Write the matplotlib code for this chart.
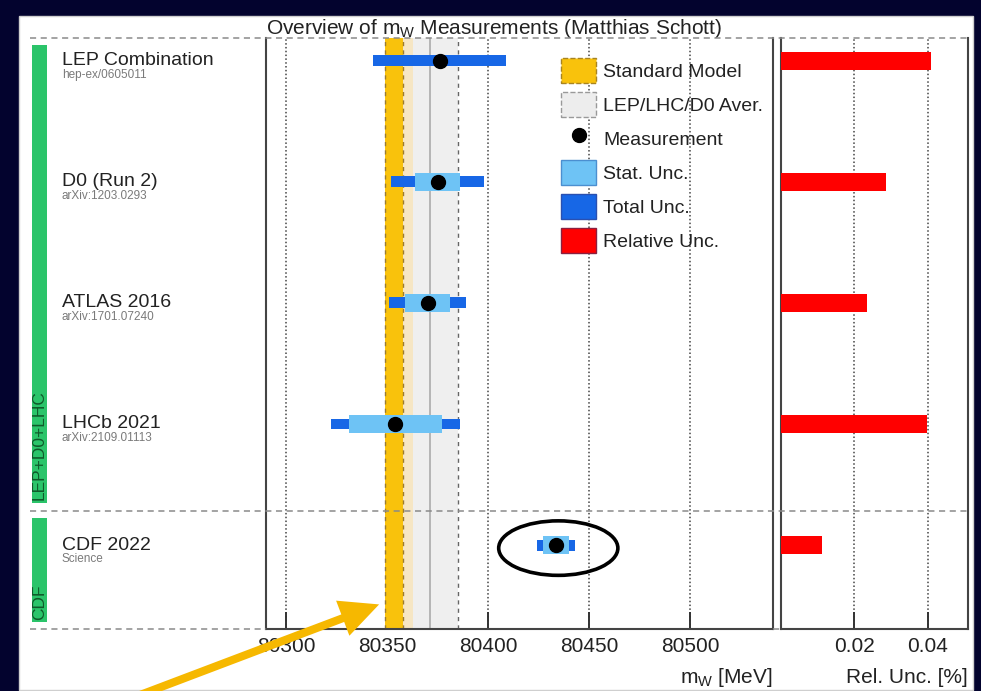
import matplotlib
matplotlib.use("Agg")
import matplotlib.pyplot as plt
from matplotlib.patches import Rectangle, Patch, Ellipse, ArrowStyle
from matplotlib.lines import Line2D
from matplotlib.transforms import blended_transform_factory

plt.rcParams["font.family"] = ["Liberation Sans", "DejaVu Sans"]
plt.rcParams["mathtext.fontset"] = "custom"
plt.rcParams["mathtext.rm"] = "Liberation Sans"
plt.rcParams["mathtext.it"] = "Liberation Sans:italic"

# ---- data -------------------------------------------------------------
experiments = ["LEP Combination", "D0 (Run 2)", "ATLAS 2016", "LHCb 2021", "CDF 2022"]
references = ["hep-ex/0605011", "arXiv:1203.0293", "arXiv:1701.07240",
              "arXiv:2109.01113", "Science"]
mw_central = [80376.0, 80375.0, 80370.0, 80354.0, 80433.5]   # MeV
unc_total = [33.0, 23.0, 19.0, 32.0, 9.4]                   # MeV
unc_stat = [None, 11.0, 11.0, 23.0, 6.4]                    # MeV
rel_unc = [0.041, 0.0285, 0.0235, 0.0398, 0.0113]           # %

sm_band = (80349.0, 80358.0)          # Standard Model prediction
sm_outer = (80358.0, 80363.0)
avg_band = (80357.0, 80385.0)         # LEP/LHC/D0 average
avg_center = 80371.0

groups = [("LEP+D0+LHC", -0.13, 3.65), ("CDF", 3.78, 4.635)]
separators = [-0.187, 3.718]

xticks_main = [80300, 80350, 80400, 80450, 80500]
xticks_rel = [0.02, 0.04]

# ---- colours ----------------------------------------------------------
C_TOTAL = "#1767e6"
C_STAT = "#6ec3f5"
C_SM = "#f9c20c"
C_SM_OUT = "#f6e6c4"
C_AVG = "#efefef"
C_RED = "#ff0000"
C_GREEN = "#2bc46a"
C_TXT = "#222222"

W, H = 981, 691
fx = lambda px: px / W
fy = lambda py: 1 - py / H

fig = plt.figure(figsize=(W / 100, H / 100), dpi=100, facecolor="#03032e")
fig.patches.append(Rectangle((fx(19), fy(690)), fx(973) - fx(19), fy(16) - fy(690),
                             transform=fig.transFigure, facecolor="white",
                             edgecolor="#cfcfcf", lw=1, zorder=-10))

ax = fig.add_axes([fx(266), fy(629), fx(773) - fx(266), fy(38) - fy(629)])
ax2 = fig.add_axes([fx(781), fy(629), fx(968) - fx(781), fy(38) - fy(629)])

rows = list(range(len(experiments)))
ylim = (4.693, -0.187)

# ---- main panel -------------------------------------------------------
ax.set_xlim(80290, 80541)
ax.set_ylim(*ylim)
ax.axvspan(*avg_band, color=C_AVG, zorder=1, lw=0)
ax.axvspan(*sm_outer, color=C_SM_OUT, zorder=1.1, lw=0)
ax.axvspan(*sm_band, color=C_SM, zorder=1.2, lw=0)
for xv in sm_band:
    ax.axvline(xv, ls=(0, (3, 3)), color="#9a7b30", lw=1.0, zorder=1.3)
ax.axvline(avg_band[1], ls=(0, (3, 3)), color="#666666", lw=1.0, zorder=1.3)
ax.axvline(avg_center, color="#b0b0b0", lw=1.3, zorder=1.3)

ax.set_xticks(xticks_main)
ax.set_xticklabels([str(t) for t in xticks_main])
ax.set_yticks([])
ax.xaxis.grid(True, ls=(0, (1, 1.5)), color="#444444", lw=1.1, zorder=0.5)
ax.set_axisbelow(True)

for i, (c, tot, st) in enumerate(zip(mw_central, unc_total, unc_stat)):
    ax.barh(i, 2 * tot, left=c - tot, height=0.09, color=C_TOTAL, zorder=3)
    if st is not None:
        ax.barh(i, 2 * st, left=c - st, height=0.15, color=C_STAT, zorder=4)
    ax.plot(c, i, "o", color="black", ms=10, zorder=5)

# ---- relative uncertainty panel --------------------------------------
ax2.set_xlim(0, 0.051)
ax2.set_ylim(*ylim)
ax2.barh(rows, rel_unc, height=0.15, color=C_RED, zorder=3)
ax2.set_xticks(xticks_rel)
ax2.set_xticklabels([f"{t:.2f}" for t in xticks_rel])
ax2.set_yticks([])
ax2.xaxis.grid(True, ls=(0, (1, 1.5)), color="#444444", lw=1.1)
ax2.set_axisbelow(True)

for a in (ax, ax2):
    a.spines["top"].set_visible(False)
    for s in ("left", "right", "bottom"):
        a.spines[s].set_color("#444444")
        a.spines[s].set_linewidth(1.5)
    a.tick_params(axis="x", direction="in", length=12, width=1.4, color="#333333",
                  labelsize=15, labelcolor=C_TXT, pad=6, top=False)
    a.tick_params(axis="y", left=False, right=False)

# axis labels and title
ax.text(1.0, -0.082, r"m$_{\rm W}$ [MeV]", transform=ax.transAxes, ha="right",
        va="center", fontsize=15, color=C_TXT)
ax2.text(1.0, -0.082, "Rel. Unc. [%]", transform=ax2.transAxes, ha="right",
         va="center", fontsize=15, color=C_TXT)
ax.text(0.0, 1.0 + 4 / 591, r"Overview of m$_{\rm W}$ Measurements (Matthias Schott)",
        transform=ax.transAxes, ha="left", va="baseline", fontsize=15, color=C_TXT)

# ---- legend -----------------------------------------------------------
handles = [
    Patch(facecolor=C_SM, edgecolor="#a88420", linestyle="--", label="Standard Model"),
    Patch(facecolor="#ededed", edgecolor="#999999", linestyle="--", label="LEP/LHC/D0 Aver."),
    Line2D([], [], marker="o", color="black", ls="none", ms=10, label="Measurement"),
    Patch(facecolor=C_STAT, edgecolor="#4b8fd0", label="Stat. Unc."),
    Patch(facecolor=C_TOTAL, edgecolor="#2a50b0", label="Total Unc."),
    Patch(facecolor=C_RED, edgecolor="#8a2040", label="Relative Unc."),
]
ax.legend(handles=handles, loc="upper left", bbox_to_anchor=(0.582, 0.966),
          frameon=False, fontsize=14, handlelength=1.8, handleheight=1.6,
          labelspacing=0.46, handletextpad=0.36, borderpad=0, borderaxespad=0,
          labelcolor=C_TXT)

# ---- left-hand labels, groups and separators ---------------------------
tr = blended_transform_factory(fig.transFigure, ax.transData)
for i, (name, ref) in enumerate(zip(experiments, references)):
    fig.text(fx(62), i, name, transform=tr, ha="left", va="center",
             fontsize=14, color=C_TXT)
    fig.text(fx(62), i + 0.115, ref, transform=tr, ha="left", va="center",
             fontsize=8.5, color="#7a7a7a")

for label, y0, y1 in groups:
    fig.patches.append(Rectangle((fx(32), y0), fx(47) - fx(32), y1 - y0,
                                 transform=tr, facecolor=C_GREEN, lw=0, zorder=1))
    fig.text(fx(39.5), y1 - 0.02, label, transform=tr, rotation=90, ha="center",
             va="bottom", fontsize=12.5, color="#0f5a2a", zorder=2)

for yv in separators:
    fig.add_artist(Line2D([fx(30), fx(968)], [yv, yv], transform=tr,
                          ls=(0, (4, 3)), color="#8a8a8a", lw=1.1, zorder=3))
for xa, xb in ((30, 266), (773, 781)):
    fig.add_artist(Line2D([fx(xa), fx(xb)], [ylim[0], ylim[0]], transform=tr,
                          ls=(0, (4, 3)), color="#8a8a8a", lw=1.1, zorder=3))

# ---- highlight of the CDF 2022 result and the SM band ------------------
ax.add_patch(Ellipse((mw_central[4] + 1.2, 4.025), width=59, height=0.45,
                     fill=False, ec="black", lw=2.6, zorder=6, clip_on=False))
ax.annotate("", xy=(sm_band[0] - 3, 4.49), xycoords="data",
            xytext=(fx(140), fy(695)), textcoords="figure fraction",
            arrowprops=dict(arrowstyle=ArrowStyle.Simple(head_length=28, head_width=27,
                                                         tail_width=5.8),
                            mutation_scale=1, color="#f6b800", lw=0,
                            shrinkA=0, shrinkB=0),
            annotation_clip=False, zorder=10)

fig.savefig("out.png", dpi=100, facecolor=fig.get_facecolor())
